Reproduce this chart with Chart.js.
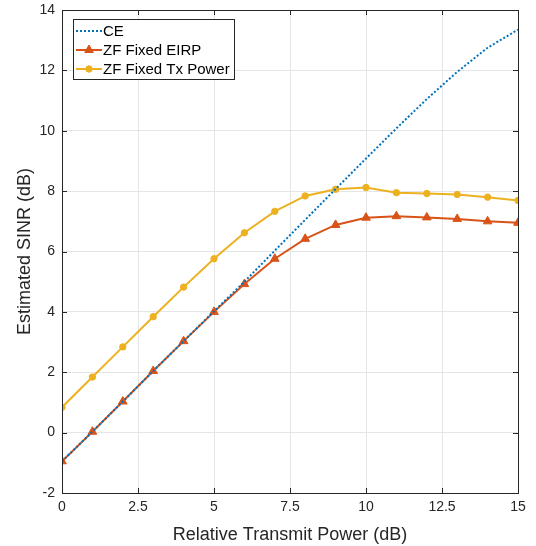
<!DOCTYPE html>
<html>
<head>
<meta charset="utf-8">
<script src="https://cdn.jsdelivr.net/npm/chart.js@4.4.1/dist/chart.umd.min.js"></script>
<style>
  html, body { margin: 0; padding: 0; background: #fff; }
  #wrap { width: 536px; height: 546px; }
</style>
</head>
<body>
<div id="wrap"><canvas id="sinr" width="536" height="546"></canvas></div>
<script>
// relative transmit power (dB)
const txPower = [ 0, 1, 2, 3, 4, 5, 6, 7, 8, 9, 10, 11, 12, 13, 14, 15 ];

// estimated SINR (dB) per scheme
const ceSinr = [ -0.95, 0.03, 1.03, 2.04, 3.03, 4.02, 5.0, 6.03, 7.05, 8.07, 9.08, 10.08, 11.05, 11.95, 12.75, 13.35 ];
const zfEirp = [ -0.95, 0.03, 1.03, 2.04, 3.03, 4.0, 4.92, 5.76, 6.42, 6.88, 7.12, 7.17, 7.13, 7.08, 7.0, 6.95 ];
const zfTxPower = [ 0.84, 1.84, 2.84, 3.84, 4.82, 5.76, 6.62, 7.33, 7.84, 8.06, 8.12, 7.95, 7.92, 7.89, 7.8, 7.69 ];

const yTicks = [ -2, 0, 2, 4, 6, 8, 10, 12, 14 ];
const xTicks = [ 0, 2.5, 5, 7.5, 10, 12.5, 15 ];

const FONT = "'Liberation Sans', Arial, Helvetica, sans-serif";
const AXIS = "#262626";

function pts ( ys ) {
  return ys.map( ( y, i ) => ( { x: txPower[ i ], y: y } ) );
}

// MATLAB style: inward tick marks + box on all four sides
const boxTicks = {
  id: "boxTicks",
  afterDatasetsDraw ( chart ) {
    const { ctx, chartArea: a, scales } = chart;
    ctx.save();
    ctx.strokeStyle = AXIS;
    ctx.lineWidth = 1;
    ctx.beginPath();
    const len = 5;
    xTicks.forEach( t => {
      const px = Math.round( scales.x.getPixelForValue( t ) ) + 0.5;
      ctx.moveTo( px, a.bottom ); ctx.lineTo( px, a.bottom - len );
      ctx.moveTo( px, a.top ); ctx.lineTo( px, a.top + len );
    } );
    yTicks.forEach( t => {
      const py = Math.round( scales.y.getPixelForValue( t ) ) + 0.5;
      ctx.moveTo( a.left, py ); ctx.lineTo( a.left + len, py );
      ctx.moveTo( a.right, py ); ctx.lineTo( a.right - len, py );
    } );
    ctx.stroke();
    ctx.strokeRect( Math.round( a.left ) + 0.5, Math.round( a.top ) + 0.5,
      Math.round( a.right - a.left ), Math.round( a.bottom - a.top ) );
    ctx.restore();
  }
};

// legend drawn inside the axes, upper left
const innerLegend = {
  id: "innerLegend",
  afterDraw ( chart ) {
    const { ctx, chartArea: a } = chart;
    const x0 = a.left + 11, y0 = a.top + 9;
    const w = 161, h = 60, rowH = 19;
    ctx.save();
    ctx.fillStyle = "#fff";
    ctx.fillRect( x0, y0, w, h );
    ctx.strokeStyle = AXIS;
    ctx.lineWidth = 1;
    ctx.strokeRect( x0 + 0.5, y0 + 0.5, w, h );
    ctx.font = "15px " + FONT;
    ctx.textBaseline = "middle";
    chart.data.datasets.forEach( ( ds, i ) => {
      const cy = y0 + 12 + i * rowH;
      ctx.strokeStyle = ds.borderColor;
      ctx.lineWidth = ds.borderWidth;
      ctx.setLineDash( ds.borderDash || [] );
      ctx.beginPath();
      ctx.moveTo( x0 + 3, cy ); ctx.lineTo( x0 + 29, cy );
      ctx.stroke();
      ctx.setLineDash( [] );
      if ( ds.pointRadius > 0 ) {
        ctx.fillStyle = ds.pointBackgroundColor;
        ctx.strokeStyle = ds.pointBorderColor;
        ctx.lineWidth = 1;
        Chart.helpers.drawPoint( ctx, {
          pointStyle: ds.pointStyle, radius: ds.pointRadius, borderWidth: 1
        }, x0 + 16, cy );
      }
      ctx.fillStyle = "#000";
      ctx.fillText( ds.label, x0 + 30, cy + 1 );
    } );
    ctx.restore();
  }
};

const chart = new Chart( document.getElementById( "sinr" ), {
  type: "line",
  data: {
    datasets: [ {
      label: "CE",
      data: pts( ceSinr ),
      borderColor: "#0072BD",
      borderWidth: 2,
      borderDash: [ 2, 2 ],
      pointRadius: 0,
      tension: 0
    }, {
      label: "ZF Fixed EIRP",
      data: pts( zfEirp ),
      borderColor: "#D95319",
      backgroundColor: "#D95319",
      pointBackgroundColor: "#D95319",
      pointBorderColor: "#D95319",
      borderWidth: 2,
      pointStyle: "triangle",
      pointRadius: 5,
      pointBorderWidth: 1,
      tension: 0
    }, {
      label: "ZF Fixed Tx Power",
      data: pts( zfTxPower ),
      borderColor: "#EDB120",
      backgroundColor: "#EDB120",
      pointBackgroundColor: "#EDB120",
      pointBorderColor: "#EDB120",
      borderWidth: 2,
      pointStyle: "circle",
      pointRadius: 3.2,
      pointBorderWidth: 1,
      tension: 0
    } ]
  },
  options: {
    responsive: false,
    animation: false,
    layout: { padding: { left: 14, right: 18, top: 10, bottom: 0 } },
    plugins: { legend: { display: false }, tooltip: { enabled: false } },
    scales: {
      x: {
        type: "linear",
        min: 0, max: 15,
        afterBuildTicks: s => { s.ticks = xTicks.map( v => ( { value: v } ) ); },
        afterFit: s => { s.height = 53; },
        border: { display: false },
        grid: { color: "#e5e5e5", lineWidth: 1, drawTicks: false },
        ticks: { color: AXIS, font: { family: FONT, size: 14 }, padding: 6, maxRotation: 0 },
        title: { display: true, text: "Relative Transmit Power (dB)", color: AXIS,
          font: { family: FONT, size: 18 }, padding: { top: 0, bottom: 0 } }
      },
      y: {
        min: -2, max: 14,
        afterBuildTicks: s => { s.ticks = yTicks.map( v => ( { value: v } ) ); },
        afterFit: s => { s.width = 48; s.paddingTop = 0; s.paddingBottom = 0; },
        border: { display: false },
        grid: { color: "#e5e5e5", lineWidth: 1, drawTicks: false },
        ticks: { color: AXIS, font: { family: FONT, size: 14, lineHeight: 0.8 }, padding: 7 },
        title: { display: true, text: "Estimated SINR (dB)", color: AXIS,
          font: { family: FONT, size: 18 }, padding: { top: 0, bottom: 0 } }
      }
    }
  },
  plugins: [ boxTicks, innerLegend ]
} );
</script>
</body>
</html>
